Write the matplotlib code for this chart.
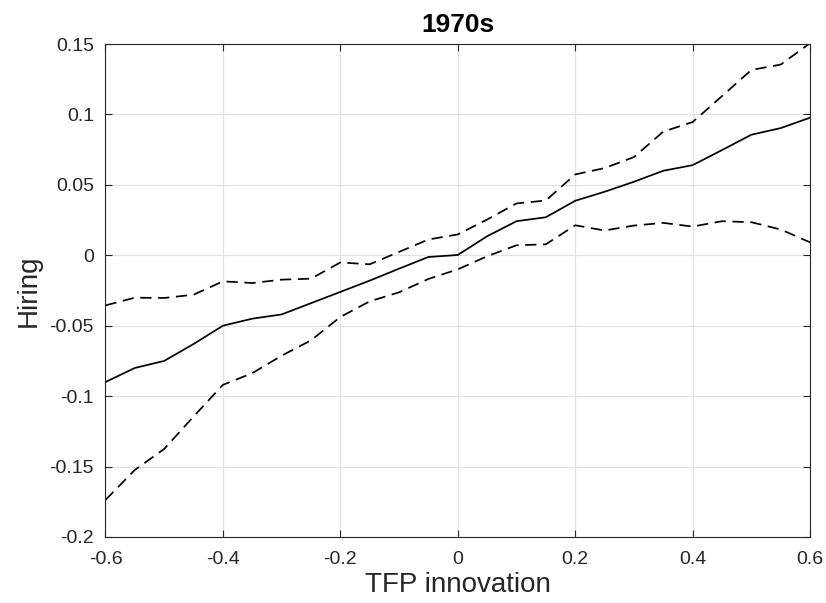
import numpy as np
import matplotlib
matplotlib.use("Agg")
import matplotlib.pyplot as plt

plt.rcParams['font.family'] = ['Liberation Sans', 'DejaVu Sans']

tfp = np.round(np.arange(-0.6, 0.6001, 0.05), 2)

hiring_mean = [-0.090, -0.080, -0.075, -0.063, -0.050, -0.045, -0.042, -0.034,
               -0.026, -0.018, -0.0095, -0.0012, 0.0002, 0.0135, 0.0242, 0.027,
               0.0387, 0.0451, 0.0522, 0.060, 0.064, 0.0747, 0.0856, 0.0903, 0.0977]
hiring_upper = [-0.0356, -0.0301, -0.0303, -0.028, -0.0185, -0.0197, -0.0173, -0.0166,
                -0.0051, -0.0064, 0.0024, 0.0112, 0.0148, 0.0254, 0.0368, 0.0389,
                0.0574, 0.0619, 0.0697, 0.0878, 0.0946, 0.113, 0.1316, 0.1354, 0.1506]
hiring_lower = [-0.1737, -0.1524, -0.1375, -0.1145, -0.092, -0.0837, -0.0713, -0.0604,
                -0.0438, -0.0327, -0.0263, -0.0168, -0.0100, -0.0007, 0.0071, 0.0078,
                0.0213, 0.0176, 0.0211, 0.0230, 0.0204, 0.0242, 0.0235, 0.0183, 0.0092]

xticks = [-0.6, -0.4, -0.2, 0, 0.2, 0.4, 0.6]
xticklabels = ['-0.6', '-0.4', '-0.2', '0', '0.2', '0.4', '0.6']
yticks = [-0.2, -0.15, -0.1, -0.05, 0, 0.05, 0.1, 0.15]
yticklabels = ['-0.2', '-0.15', '-0.1', '-0.05', '0', '0.05', '0.1', '0.15']

fig = plt.figure(figsize=(8.26, 6.03), dpi=100)
ax = fig.add_axes([0.1277, 0.1095, 0.853, 0.8175])

ax.plot(tfp, hiring_mean, color='black', lw=1.25)
ax.plot(tfp, hiring_upper, color='black', lw=1.25, dashes=(6.5, 3.8))
ax.plot(tfp, hiring_lower, color='black', lw=1.25, dashes=(6.5, 3.8))

ax.set_xlim(-0.6, 0.6)
ax.set_ylim(-0.2, 0.15)
ax.set_xticks(xticks)
ax.set_xticklabels(xticklabels)
ax.set_yticks(yticks)
ax.set_yticklabels(yticklabels)

ax.grid(True, color='#e3e3e3', lw=0.9)
ax.set_axisbelow(True)
ax.tick_params(direction='in', top=True, right=True, length=5, width=0.8,
               labelsize=14, color='#262626', labelcolor='#262626')
ax.tick_params(axis='x', pad=10)
ax.tick_params(axis='y', pad=8.3)
for s in ax.spines.values():
    s.set_color('#262626')
    s.set_linewidth(0.8)

ax.set_title('1970s', fontsize=19, fontweight='bold', pad=8.6)
ax.set_xlabel('TFP innovation', fontsize=20, color='#262626')
ax.set_ylabel('Hiring', fontsize=20, color='#262626')
ax.xaxis.set_label_coords(0.5, -0.071)
ax.yaxis.set_label_coords(-0.090, 0.5)

fig.savefig('out.png', dpi=100)
